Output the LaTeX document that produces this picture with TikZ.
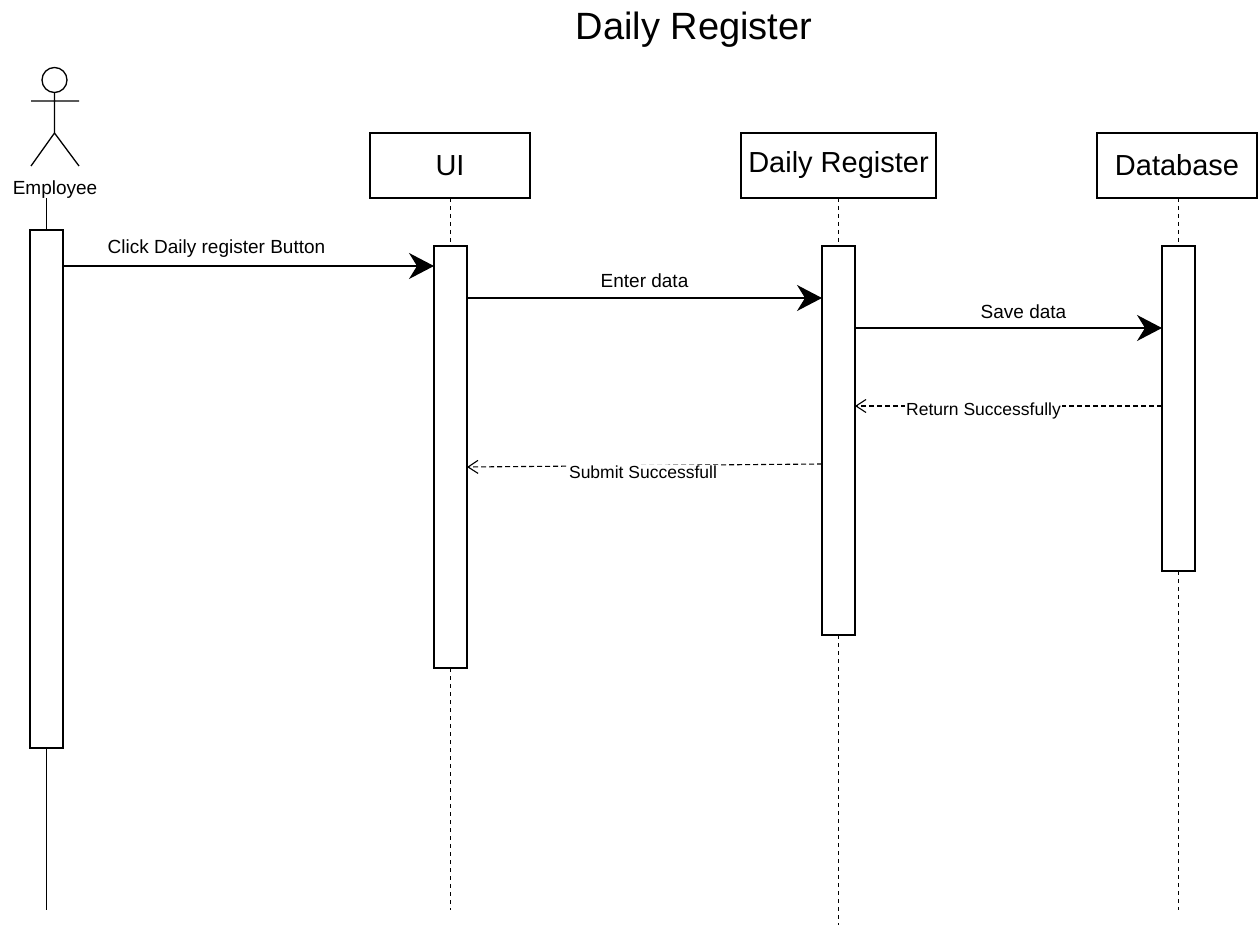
\documentclass[tikz,border=0pt]{standalone}
\usepackage{fontspec}
\setmainfont{Liberation Sans}
\usetikzlibrary{arrows.meta}
\usetikzlibrary{positioning,calc}

\begin{document}
\begin{tikzpicture}[x=1pt,y=-1pt,
			every node/.style={inner sep=0pt,outer sep=0pt},
			lifebox/.style={draw,line width=1.3pt,minimum height=65pt,font=\fontsize{29}{34}\selectfont},
			actbox/.style={draw,fill=white,line width=1.3pt,minimum width=33pt},
			lifeline/.style={line width=1pt,dash pattern=on 4pt off 4pt},
			call/.style={line width=1.3pt,-{Stealth[length=25pt,width=26pt,inset=8pt]}},
			reply/.style={line width=1.1pt,dash pattern=on 5pt off 3pt,-{Straight Barb[length=10pt,width=13pt]}},
			msglabel/.style={font=\fontsize{19}{22}\selectfont,text depth=0pt},
			replylabel/.style={font=\fontsize{17.5}{21}\selectfont,fill=white,inner sep=1pt}
			]
			\useasboundingbox (0,0) rectangle (1258,925);
			
			\node[font=\fontsize{38}{45}\selectfont,anchor=base] (title) at (694,40) {Daily Register};
			
			% actor
			\draw[line width=1.3pt] (54.5,80) circle[radius=12.5pt];
			\draw[line width=1.3pt] (54.5,92.5) -- (54.5,133) (31,101) -- (79,101) (31,166) -- (54.5,133) -- (79,166);
			\node[msglabel,anchor=base] (emp) at (55,195) {Employee};
			
			\node[lifebox,minimum width=160pt] (ui) at (450,165.5) {UI};
			\node[lifebox,minimum width=195pt] (dreg) at (838.5,165.5) {Daily Register};
			\node[lifebox,minimum width=160pt] (db) at (1177,165.5) {Database};
			
			\node[actbox,minimum height=518pt] (actE) at (46.5,489) {};
			\node[actbox,minimum height=422pt] (actUI) at (450.5,457) {};
			\node[actbox,minimum height=389pt] (actDR) at (838.5,440.5) {};
			\node[actbox,minimum height=325pt] (actDB) at (1178.5,408.5) {};
			
			\coordinate (bottom) at (0,910);
			\draw[line width=1pt] (actE.north) -- ([yshift=-3pt]emp.south -| actE.north);
			\draw[line width=1pt] (actE.south) -- (actE.south |- bottom);
			\draw[lifeline] (actUI.north |- ui.south) -- (actUI.north);
			\draw[lifeline] (actUI.south) -- (actUI.south |- bottom);
			\draw[lifeline] (dreg.south) -- (actDR.north);
			\draw[lifeline] (actDR.south) -- (actDR.south |- 0,925);
			\draw[lifeline] (actDB.north |- db.south) -- (actDB.north);
			\draw[lifeline] (actDB.south) -- (actDB.south |- bottom);
			
			% messages
			\draw[call] (actE.east |- 0,266) -- node[msglabel,above=12pt,xshift=-32pt] {Click Daily register Button} (actUI.west |- 0,266);
			\draw[call] (actUI.east |- 0,298) -- node[msglabel,above=10pt] {Enter data} (actDR.west |- 0,298);
			\draw[call] (actDR.east |- 0,328) -- node[msglabel,above=9pt,xshift=15pt] {Save data} (actDB.west |- 0,328);
			\draw[reply] (actDB.west |- 0,406) -- node[replylabel,xshift=-25pt,yshift=-5pt] {Return Successfully} (actDR.east |- 0,406);
			\draw[reply] (actDR.west |- 0,464) -- node[replylabel,xshift=-1.5pt,yshift=-7pt] {Submit Successfull} (actUI.east |- 0,467);
		\end{tikzpicture}
\end{document}
